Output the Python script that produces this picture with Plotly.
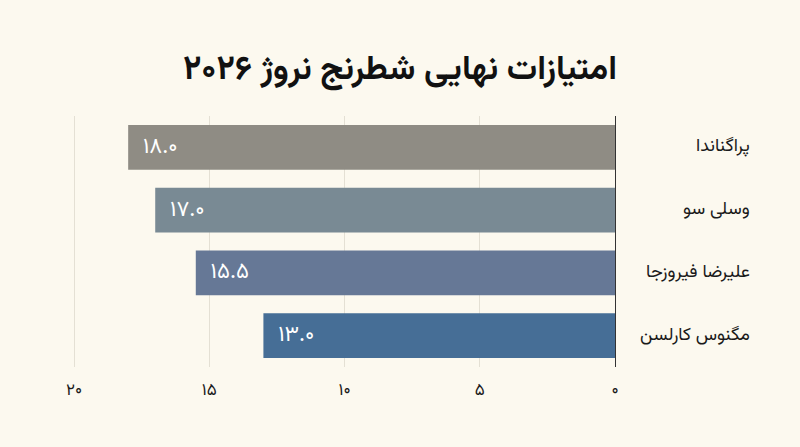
import plotly.graph_objects as go

# ===== DATA =====
players = ["پراگناندا", "وسلی سو", "علیرضا فیروزجا", "مگنوس کارلسن"]
scores = [18.0, 17.0, 15.5, 13.0]
bar_colors = ["#8f8c84", "#798a94", "#667896", "#466e96"]
tick_vals = [0, 5, 10, 15, 20]
tick_text = ["۰", "۵", "۱۰", "۱۵", "۲۰"]

fa_digits = str.maketrans("0123456789", "۰۱۲۳۴۵۶۷۸۹")


def to_fa(v):
    return ("%.1f" % v).translate(fa_digits)


FONT = "Vazirmatn, DejaVu Sans, sans-serif"
BG = "#fcf9ef"

fig = go.Figure()
fig.add_trace(go.Bar(
    x=scores, y=players, orientation="h",
    marker=dict(color=bar_colors, line=dict(width=0)),
    text=["\u00a0\u00a0" + to_fa(s) for s in scores],
    textposition="inside", insidetextanchor="end",
    textfont=dict(color="white", size=22, family=FONT),
    cliponaxis=False,
))

# player names, right aligned beside the axis
for p in players:
    fig.add_annotation(x=1.2528, xref="paper", y=p, yref="y", text=p,
                       showarrow=False, xanchor="right",
                       font=dict(size=18, color="#1a1a1a", family=FONT))

fig.update_layout(
    width=800, height=447,
    paper_bgcolor=BG, plot_bgcolor=BG,
    margin=dict(l=73, r=185, t=116, b=80),
    title=dict(text="<b>امتیازات نهایی شطرنج نروژ ۲۰۲۶</b>", x=0.5, xanchor="center",
               y=0.85, yanchor="middle",
               font=dict(size=34, color="#111111", family=FONT)),
    bargap=0.29,
    showlegend=False,
)
fig.update_xaxes(range=[20.04, 0], tickvals=tick_vals, ticktext=tick_text,
                 showgrid=True, gridcolor="#e4e0d4", gridwidth=1,
                 zeroline=True, zerolinecolor="#333333", zerolinewidth=1,
                 ticks="", ticklabelstandoff=10,
                 tickfont=dict(size=17, color="#1a1a1a", family=FONT))
fig.update_yaxes(autorange="reversed", showticklabels=False, showgrid=False,
                 zeroline=False, side="right")

fig.write_html("out.html", config={"displayModeBar": False},
               post_script="document.body.style.margin='0';")
